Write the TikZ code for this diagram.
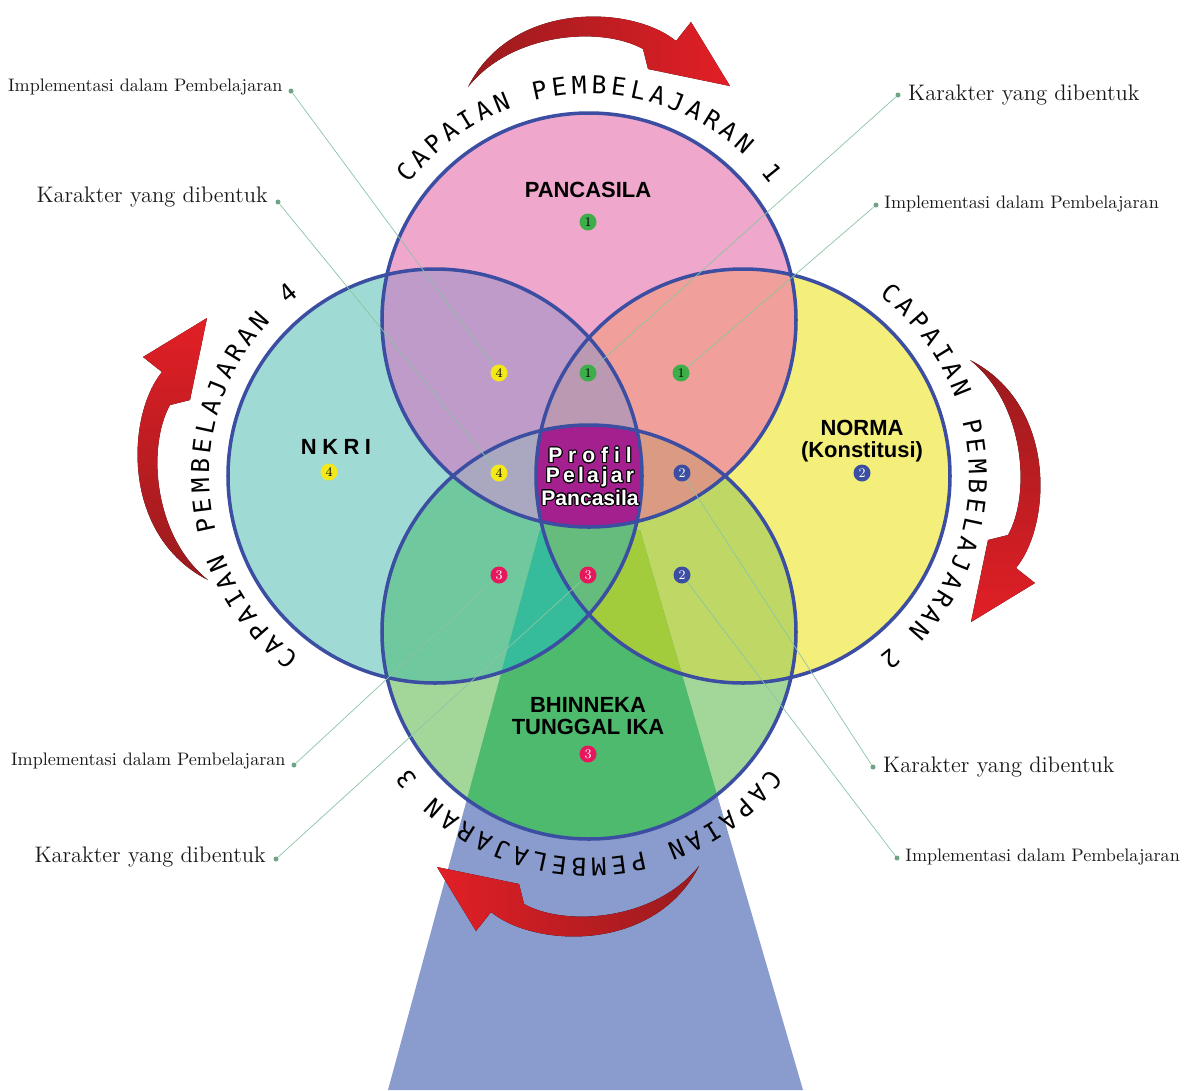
\documentclass[tikz,border=0pt]{standalone}
\usepackage{fontspec}
\usepackage[copies]{contour}
\usetikzlibrary{positioning,decorations.text,calc}
\newfontfamily\headfont{Liberation Sans}
\newfontfamily\arcfont{DejaVu Sans Mono}
\contourlength{0.6pt}

\definecolor{pinkT}{HTML}{EFA7CB}
\definecolor{tealL}{HTML}{9FDBD4}
\definecolor{yellowR}{HTML}{F4EF7B}
\definecolor{greenB}{HTML}{A3D79A}
\definecolor{mixTL}{HTML}{BE9BC8}
\definecolor{mixTR}{HTML}{F19F9B}
\definecolor{mixBL}{HTML}{70C89E}
\definecolor{mixBR}{HTML}{BFD865}
\definecolor{mixTLR}{HTML}{BC99B3}
\definecolor{mixTLB}{HTML}{AAA7C0}
\definecolor{mixTRB}{HTML}{DA9B82}
\definecolor{mixBLR}{HTML}{65BC7C}
\definecolor{core}{HTML}{A3208E}
\definecolor{beam}{HTML}{8A9BCD}
\definecolor{beamB}{HTML}{4DBA6E}
\definecolor{beamBL}{HTML}{36BC9B}
\definecolor{beamBR}{HTML}{A3CC3D}
\definecolor{ringblue}{HTML}{3B4EA2}
\definecolor{arrowhi}{HTML}{E21F26}
\definecolor{arrowlo}{HTML}{991B1E}
\definecolor{leadgreen}{HTML}{8CC5A3}
\definecolor{dotgreen}{HTML}{6FA486}
\definecolor{bgreen}{HTML}{3DAE4A}
\definecolor{bblue}{HTML}{3B4EA2}
\definecolor{bred}{HTML}{E6175C}
\definecolor{byellow}{HTML}{F2E81C}
\definecolor{ink}{HTML}{1A1718}

\tikzset{
  ring/.style={draw=ringblue, line width=2pt},
  badge/.style={circle, fill=#1, minimum size=0.34cm, inner sep=0pt, font=\fontsize{7.5}{7.5}\selectfont},
  dotmark/.style={circle, fill=dotgreen, minimum size=0.1cm, inner sep=0pt},
  leader/.style={draw=leadgreen, line width=0.4pt},
  lbl/.style={text=ink, inner sep=1pt, font=\fontsize{12.8}{14}\selectfont},
  lblsmall/.style={text=ink, inner sep=1pt, font=\fontsize{10.3}{12}\selectfont},
  title/.style={text=black, align=center, font=\headfont\bfseries\fontsize{12.5}{12.5}\selectfont},
  arctext/.style={decorate, decoration={text along path, text align=fit to path,
      text={|\arcfont\fontsize{14}{14}\selectfont|#1}}}
}

\def\cT{(589,-320) circle[radius=207]}
\def\cL{(435,-476) circle[radius=207]}
\def\cR{(743,-476) circle[radius=207]}
\def\cB{(589,-632) circle[radius=207]}
\def\beampath{(540,-530) -- (640,-530) -- (803,-1090) -- (388,-1090) -- cycle}

\begin{document}
\begin{tikzpicture}[x=0.02cm, y=0.02cm]
  \useasboundingbox (0,0) rectangle (1184,-1090);

  % beam and circles
  \fill[beam] \beampath;
  \fill[pinkT] \cT;
  \fill[tealL] \cL;
  \fill[yellowR] \cR;
  \fill[greenB] \cB;
  \begin{scope}
    \clip \cT;
    \fill[mixTL] \cL;
    \fill[mixTR] \cR;
  \end{scope}
  \begin{scope}
    \clip \cB;
    \fill[mixBL] \cL;
    \fill[mixBR] \cR;
  \end{scope}
  \begin{scope}
    \clip \beampath;
    \clip \cB;
    \fill[beamB] \cB;
    \fill[beamBL] \cL;
    \fill[beamBR] \cR;
  \end{scope}
  \begin{scope}
    \clip \cL;
    \clip \cR;
    \fill[mixTLR] \cT;
    \fill[mixBLR] \cB;
  \end{scope}
  \begin{scope}
    \clip \cT;
    \clip \cB;
    \fill[mixTLB] \cL;
    \fill[mixTRB] \cR;
  \end{scope}
  \begin{scope}
    \clip \cT;
    \clip \cB;
    \clip \cL;
    \fill[core] \cR;
  \end{scope}
  \draw[ring] \cT;
  \draw[ring] \cL;
  \draw[ring] \cR;
  \draw[ring] \cB;

  % red arrows
  \foreach \ang/\dx/\dy in {0/0/0, -90/-17/8, 180/0/12, 90/6/-9}{
    \begin{scope}[shift={({589+\dx},{-476+\dy})}, rotate=\ang]
      \fill[top color=arrowhi, bottom color=arrowlo, shading angle=\ang]
        (-382,158) -- (-446,119) -- (-427,104)
        .. controls (-463,60) and (-468,-60) .. (-381,-104)
        .. controls (-436,-60) and (-442,30) .. (-419,71)
        -- (-399,76) -- cycle;
    \end{scope}
  }

  % arc captions
  \path[arctext={CAPAIAN PEMBELAJARAN 1}] (589,-320) ++(143:226) arc[start angle=143, end angle=37, radius=226];
  \path[arctext={CAPAIAN PEMBELAJARAN 2}] (743,-476) ++(53:226) arc[start angle=53, end angle=-53, radius=226];
  \path[arctext={CAPAIAN PEMBELAJARAN 3}] (589,-632) ++(-37:226) arc[start angle=-37, end angle=-143, radius=226];
  \path[arctext={CAPAIAN PEMBELAJARAN 4}] (435,-476) ++(233:226) arc[start angle=233, end angle=127, radius=226];

  % badge places
  \coordinate (b1a) at (588,-222);
  \coordinate (b1b) at (588,-373);
  \coordinate (b1c) at (681,-373);
  \coordinate (b2a) at (862,-473);
  \coordinate (b2b) at (682,-473);
  \coordinate (b2c) at (682,-575);
  \coordinate (b3a) at (588,-754);
  \coordinate (b3b) at (588,-575);
  \coordinate (b3c) at (499,-575);
  \coordinate (b4a) at (329,-472);
  \coordinate (b4b) at (499,-473);
  \coordinate (b4c) at (499,-373);

  % label dots
  \node[dotmark] (dtl1) at (291,-91) {};
  \node[dotmark] (dtl2) at (278,-202) {};
  \node[dotmark] (dtr1) at (898,-95) {};
  \node[dotmark] (dtr2) at (876,-205) {};
  \node[dotmark] (dbr1) at (873,-767) {};
  \node[dotmark] (dbr2) at (897,-858) {};
  \node[dotmark] (dbl1) at (294,-765) {};
  \node[dotmark] (dbl2) at (276,-859) {};

  \draw[leader] (b4c) -- (dtl1);
  \draw[leader] (b4b) -- (dtl2);
  \draw[leader] (b1b) -- (dtr1);
  \draw[leader] (b1c) -- (dtr2);
  \draw[leader] (b2b) -- (dbr1);
  \draw[leader] (b2c) -- (dbr2);
  \draw[leader] (b3c) -- (dbl1);
  \draw[leader] (b3b) -- (dbl2);

  \node[lblsmall, base left=2pt of dtl1] {Implementasi dalam Pembelajaran};
  \node[lbl, base left=3pt of dtl2] {Karakter yang dibentuk};
  \node[lbl, base right=3pt of dtr1, yshift=-3pt] {Karakter yang dibentuk};
  \node[lblsmall, base right=2pt of dtr2, yshift=-2pt] {Implementasi dalam Pembelajaran};
  \node[lbl, base right=3pt of dbr1, yshift=-3pt] {Karakter yang dibentuk};
  \node[lblsmall, base right=2pt of dbr2, yshift=-2pt] {Implementasi dalam Pembelajaran};
  \node[lblsmall, base left=2pt of dbl1] {Implementasi dalam Pembelajaran};
  \node[lbl, base left=3pt of dbl2, yshift=-2pt] {Karakter yang dibentuk};

  % badges
  \node[badge=bgreen] (n1a) at (b1a) {1};
  \node[badge=bgreen] (n1b) at (b1b) {1};
  \node[badge=bgreen] (n1c) at (b1c) {1};
  \node[badge=bblue, text=white] (n2a) at (b2a) {2};
  \node[badge=bblue, text=white] (n2b) at (b2b) {2};
  \node[badge=bblue, text=white] (n2c) at (b2c) {2};
  \node[badge=bred, text=white] (n3a) at (b3a) {3};
  \node[badge=bred, text=white] (n3b) at (b3b) {3};
  \node[badge=bred, text=white] (n3c) at (b3c) {3};
  \node[badge=byellow] (n4a) at (b4a) {4};
  \node[badge=byellow] (n4b) at (b4b) {4};
  \node[badge=byellow] (n4c) at (b4c) {4};

  % circle titles
  \node[title] (pancasila) at (588,-190) {PANCASILA};
  \node[title] (nkri) at (336,-447) {\addfontfeatures{LetterSpace=25}NKRI};
  \node[title] (norma) at (862,-441) {NORMA\\(Konstitusi)};
  \node[title] (bhinneka) at (588,-716) {BHINNEKA\\TUNGGAL IKA};
  \node[title, text=white, font=\headfont\bfseries\fontsize{12}{11.3}\selectfont] (profil) at (590,-477)
    {{\addfontfeatures{LetterSpace=28}\contour{black}{Profil}}\\
     {\addfontfeatures{LetterSpace=15}\contour{black}{Pelajar}}\\
     \contour{black}{Pancasila}};
\end{tikzpicture}
\end{document}
